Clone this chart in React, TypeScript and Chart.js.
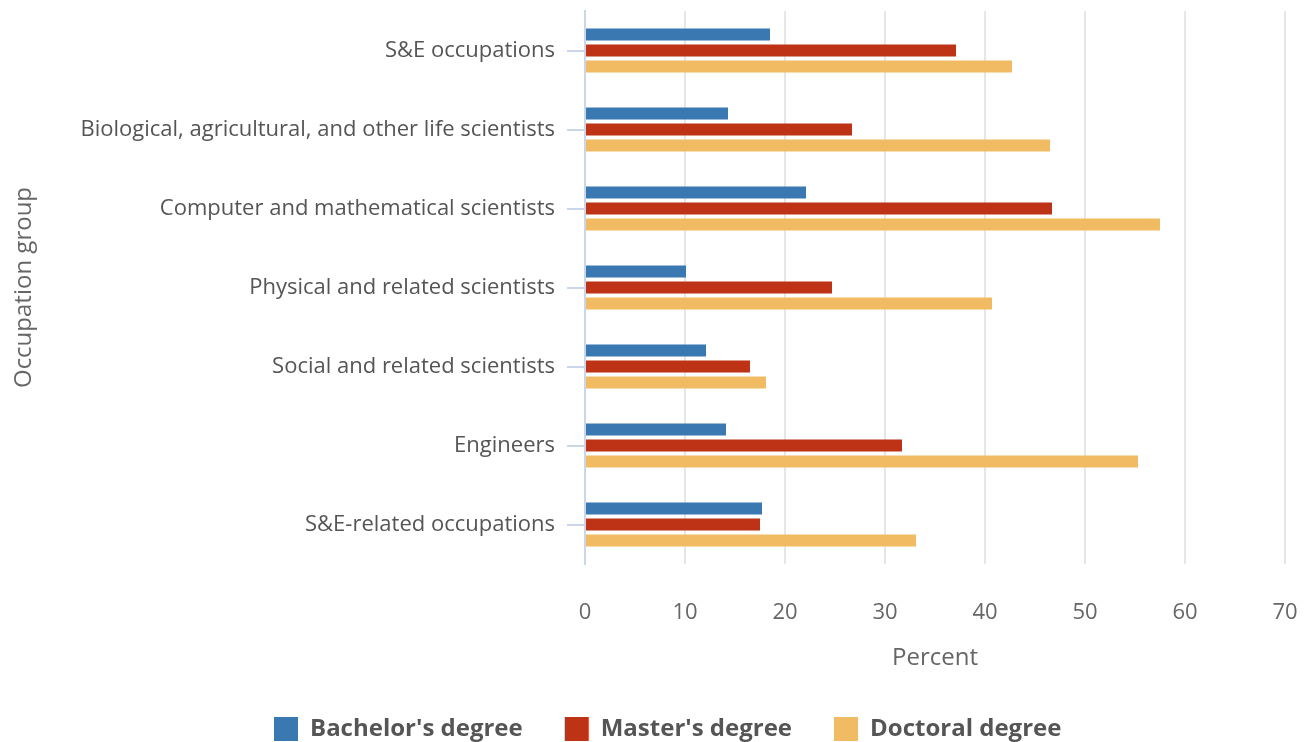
import React, { useEffect, useRef } from "react";
import { Chart, registerables } from "chart.js";

Chart.register(...registerables);

const categories = [
  "S&E occupations",
  "Biological, agricultural, and other life scientists",
  "Computer and mathematical scientists",
  "Physical and related scientists",
  "Social and related scientists",
  "Engineers",
  "S&E-related occupations",
];
const bachelorValues = [18.5, 14.3, 22.1, 10.1, 12.1, 14.1, 17.7];
const masterValues = [37.1, 26.7, 46.7, 24.7, 16.5, 31.7, 17.5];
const doctoralValues = [42.7, 46.5, 57.5, 40.7, 18.1, 55.3, 33.1];
const seriesNames = ["Bachelor's degree", "Master's degree", "Doctoral degree"];
const seriesColors = ["#3A78B1", "#BE3216", "#F0BB63"];
const xTickValues = [0, 10, 20, 30, 40, 50, 60, 70];
const xTitle = "Percent";
const yTitle = "Occupation group";

const W = 1309;
const H = 751;
const PLOT_LEFT = 585;
const X_AXIS_HEIGHT = 111;
const LEGEND_START_X = 274;

const legendPlace = {
  id: "legendPlace",
  afterLayout(chart: any) {
    const l = chart.legend;
    if (!l || !l.lineWidths) return;
    const p = l.options.labels.padding;
    const start = (l.left + p + l.right - l.lineWidths[0]) / 2;
    const shift = LEGEND_START_X - start;
    l.left += 2 * shift;
  },
};

export default function App() {
  const ref = useRef<HTMLCanvasElement | null>(null);
  useEffect(() => {
    if (!ref.current) return;
    const chart = new Chart(ref.current, {
      type: "bar",
      data: {
        labels: categories,
        datasets: [bachelorValues, masterValues, doctoralValues].map((d, i) => ({
          label: seriesNames[i],
          data: d,
          backgroundColor: seriesColors[i],
          borderWidth: 0,
          categoryPercentage: 48 / 79,
          barPercentage: 0.75,
        })),
      },
      options: {
        indexAxis: "y",
        responsive: false,
        animation: false,
        layout: { padding: { top: 11, right: 24, left: 0, bottom: 0 } },
        plugins: {
          tooltip: { enabled: false },
          legend: {
            position: "bottom",
            labels: {
              boxWidth: 24,
              boxHeight: 24,
              padding: 42,
              color: "#555555",
              font: { family: "'Open Sans'", size: 24, weight: "bold" },
            },
          },
        },
        scales: {
          x: {
            type: "linear",
            min: 0,
            max: 70,
            afterBuildTicks: (s: any) => {
              s.ticks = xTickValues.map((v) => ({ value: v }));
            },
            grid: {
              color: (c: any) => (c.tick && c.tick.value === 0 ? "#ccd6eb" : "#e6e6e6"),
              lineWidth: 2,
              drawTicks: false,
            },
            border: { display: false },
            ticks: {
              padding: 36,
              color: "#666666",
              font: { family: "'Open Sans'", size: 22 },
            },
            title: {
              display: true,
              text: xTitle,
              color: "#666666",
              font: { family: "'Open Sans'", size: 24 },
              padding: { top: 10, bottom: 2 },
            },
            afterFit: (s: any) => {
              s.height = X_AXIS_HEIGHT;
              s.paddingLeft = 0;
              s.paddingRight = 0;
            },
          },
          y: {
            type: "category",
            grid: {
              offset: false,
              drawOnChartArea: false,
              drawTicks: true,
              tickLength: 18,
              color: "#ccd6eb",
              lineWidth: 2,
            },
            border: { display: true, color: "#ccd6eb", width: 2 },
            ticks: {
              padding: 12,
              color: "#555555",
              font: { family: "'Open Sans'", size: 22 },
            },
            title: {
              display: true,
              text: yTitle,
              color: "#666666",
              font: { family: "'Open Sans'", size: 24 },
              padding: { top: 10, bottom: 0 },
            },
            afterFit: (s: any) => {
              s.width = PLOT_LEFT;
              s.paddingTop = 0;
              s.paddingBottom = 0;
            },
          },
        },
      },
      plugins: [legendPlace],
    });
    return () => chart.destroy();
  }, []);
  return (
    <div style={{ position: "fixed", left: 0, top: 0, width: W, height: H, background: "#fff" }}>
      <canvas ref={ref} width={W} height={H} style={{ width: W, height: H, display: "block" }} />
    </div>
  );
}
